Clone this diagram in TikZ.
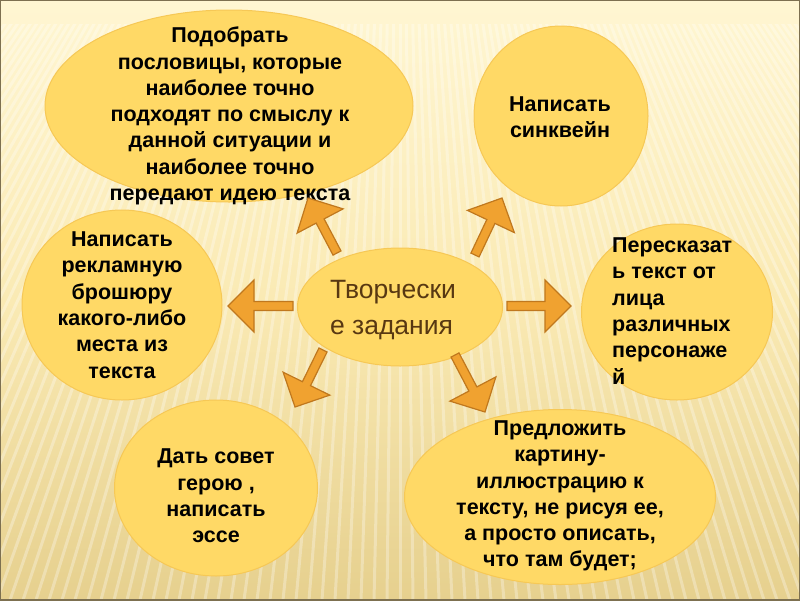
\documentclass[tikz,border=0pt]{standalone}
\usepackage{fontspec}
\setmainfont{Liberation Sans}
\usetikzlibrary{shapes.geometric,calc}
\definecolor{bgtop}{RGB}{255,246,210}
\definecolor{bgmid}{RGB}{250,234,180}
\definecolor{bgbot}{RGB}{230,208,142}
\definecolor{ellfill}{RGB}{255,217,102}
\definecolor{elledge}{RGB}{246,200,86}
\definecolor{arrfill}{RGB}{240,162,48}
\definecolor{arrline}{RGB}{192,120,30}
\definecolor{framec}{RGB}{125,112,80}
\definecolor{ctext}{RGB}{88,56,18}
\tikzset{
  bub/.style={ellipse, fill=ellfill, draw=elledge, line width=1pt, inner sep=0pt},
  btext/.style={align=center, font=\bfseries\fontsize{21.5}{26.3}\selectfont, text=black, inner sep=0pt},
  blockarr/.style={fill=arrfill, draw=arrline, line width=1.2pt, line join=miter},
}
\newcommand\blockarrow[3]{%
  \coordinate (#1h) at ($(#3)!26pt!(#2)$);
  \filldraw[blockarr] ($(#2)!4.5pt!90:(#3)$) -- ($(#1h)!4.5pt!90:(#3)$) -- ($(#1h)!26pt!90:(#3)$) -- (#3)
    -- ($(#1h)!26pt!-90:(#3)$) -- ($(#1h)!4.5pt!-90:(#3)$) -- ($(#2)!4.5pt!-90:(#3)$) -- cycle;}
\begin{document}
\begin{tikzpicture}[x=1pt,y=-1pt]
\useasboundingbox (0,0) rectangle (800,600);
% background
\shade[top color=bgtop, bottom color=bgbot, middle color=bgmid] (0,0) rectangle (800,600);
\begin{scope}
\clip (0,24) rectangle (800,600);
\foreach \k in {-80,...,80} {
  \draw[white, opacity=0.3, line width=3pt] (400+\k*1.5,-400) -- (400+\k*13,600);
}
\end{scope}
\draw[framec, line width=2.5pt] (0,0) rectangle (800,600);
% bubbles
\node[bub, minimum width=368pt, minimum height=192pt] (tl) at (229,106) {};
\node[bub, minimum width=174pt, minimum height=180pt] (tr) at (561,116) {};
\node[bub, minimum width=200pt, minimum height=190pt] (lf) at (122,305) {};
\node[bub, minimum width=191pt, minimum height=176pt] (rt) at (677,312) {};
\node[bub, minimum width=203pt, minimum height=176pt] (bl) at (216,488) {};
\node[bub, minimum width=311pt, minimum height=175pt] (br) at (560,497) {};
\node[bub, minimum width=205pt, minimum height=118pt] (ct) at (400,307) {};
% texts
\node[btext] (tltx) at (230,116) {Подобрать\\пословицы, которые\\наиболее точно\\подходят по смыслу к\\данной ситуации и\\наиболее точно\\передают идею текста};
\node[btext] (trtx) at (560,117) {Написать\\синквейн};
\node[btext] (lftx) at (122,305) {Написать\\рекламную\\брошюру\\какого-либо\\места из\\текста};
\node[btext, align=left, anchor=west] (rttx) at (612,311) {Пересказат\\ь текст от\\лица\\различных\\персонаже\\й};
\node[btext] (bltx) at (216,496) {Дать совет\\герою ,\\написать\\эссе};
\node[btext] (brtx) at (560,496) {Предложить\\картину-\\иллюстрацию к\\тексту, не рисуя ее,\\а просто описать,\\что там будет;};
\node[align=left, text=ctext, font=\fontsize{26.5}{36}\selectfont, inner sep=0pt] (cttx) at (393,310) {Творчески\\е задания};
% arrows
\coordinate (ula) at (337,253); \coordinate (ulb) at (308,198);
\coordinate (ura) at (475,255); \coordinate (urb) at (502,198);
\coordinate (lfa) at (293,306); \coordinate (lfb) at (228,306);
\coordinate (rta) at (507,306); \coordinate (rtb) at (571,306);
\coordinate (dla) at (323,350); \coordinate (dlb) at (295,407);
\coordinate (dra) at (455,355); \coordinate (drb) at (485,412);
\blockarrow{ul}{ula}{ulb}
\blockarrow{ur}{ura}{urb}
\blockarrow{lf}{lfa}{lfb}
\blockarrow{rt}{rta}{rtb}
\blockarrow{dl}{dla}{dlb}
\blockarrow{dr}{dra}{drb}
\end{tikzpicture}
\end{document}
